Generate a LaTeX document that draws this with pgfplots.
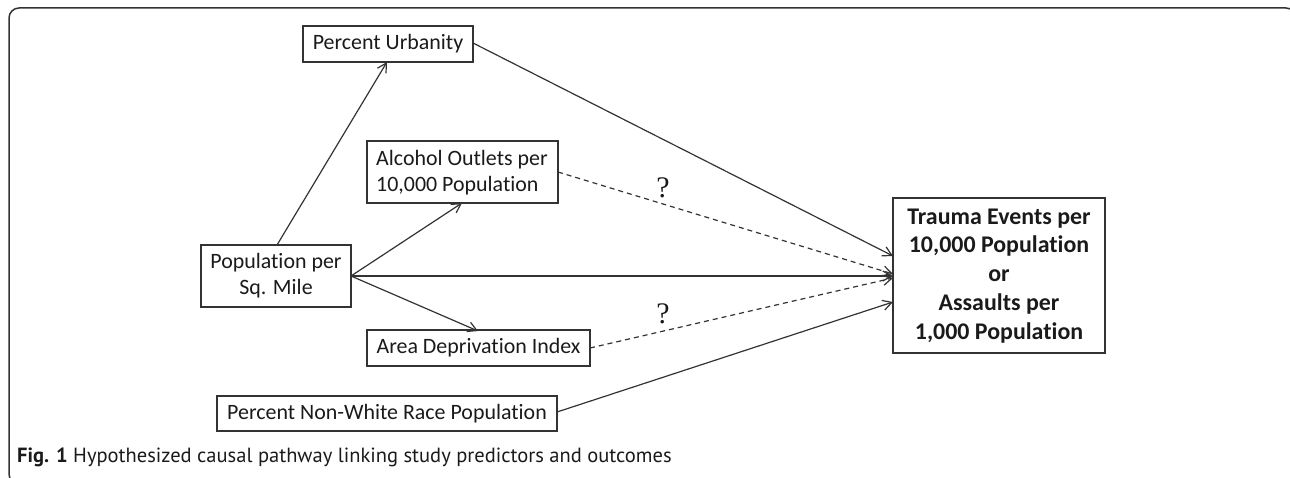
\documentclass[border=0pt]{standalone}
\usepackage{pgfplots}
\pgfplotsset{compat=1.18}
\usepackage{fontspec}
\setmainfont{Carlito}[RawFeature={-liga;-clig;-calt;-dlig}]
\newfontfamily\capfont{PT Sans}
\newfontfamily\qfont{Liberation Serif}
\usetikzlibrary{arrows.meta}
\definecolor{ln}{HTML}{333333}
\definecolor{tx}{HTML}{1A1A1A}
\begin{document}
\begin{tikzpicture}[x=1bp,y=1bp]
\begin{axis}[name=ax, at={(0,0)}, anchor=south west,
  width=1290bp, height=477bp, scale only axis,
  xmin=0, xmax=1290, ymin=0, ymax=477, y dir=reverse,
  hide axis, clip=false]
% outer frame
\draw[ln, line width=1.5bp, rounded corners=10bp] (axis cs:1296,8) -- (axis cs:9,8) -- (axis cs:9,484) -- (axis cs:1296,484) -- cycle;
% boxes
\tikzset{bx/.style={ln, line width=1.2bp}, tn/.style={text=tx, font=\fontsize{22}{26}\selectfont, align=center, inner sep=0pt}}
\draw[bx] (axis cs:303,26) rectangle (axis cs:473,62);
\node[tn] at (axis cs:388,44) {Percent Urbanity};
\draw[bx] (axis cs:367,141) rectangle (axis cs:558,203);
\node[tn, align=left] at (axis cs:462,173) {Alcohol Outlets per\\10,000 Population};
\draw[bx] (axis cs:201,245) rectangle (axis cs:351,307);
\node[tn] at (axis cs:276,276) {Population per\\Sq. Mile};
\draw[bx] (axis cs:367,330) rectangle (axis cs:590,366);
\node[tn] at (axis cs:478.5,348) {Area Deprivation Index};
\draw[bx] (axis cs:217,396) rectangle (axis cs:557,431);
\node[tn] at (axis cs:387,413.5) {Percent Non-White Race Population};
\draw[bx] (axis cs:893,198) rectangle (axis cs:1105,353);
\node[tn, font=\bfseries\fontsize{24}{29}\selectfont] at (axis cs:999,276) {Trauma Events per\\10,000 Population\\or\\Assaults per\\1,000 Population};
% arrows
\pgfplotsset{every axis plot/.append style={ln, line width=1.2bp}}
\tikzset{ar/.style={-{Straight Barb[length=9bp,width=10bp,line width=1.2bp]}}}
\addplot[ar] coordinates {(277,245) (387,62)};
\addplot[ar] coordinates {(351,276) (462,203)};
\addplot[ar] coordinates {(351,276) (478,331)};
\addplot[ar] coordinates {(351,276) (893,276)};
\addplot[ar] coordinates {(473,43) (893,256)};
\addplot[ar] coordinates {(557,412) (893,302)};
\addplot[ar, dash pattern=on 5bp off 4bp] coordinates {(558,172) (893,274)};
\addplot[ar, dash pattern=on 5bp off 4bp] coordinates {(590,348) (893,278)};
\node[text=tx, font=\qfont\fontsize{30}{30}\selectfont, inner sep=0pt] at (axis cs:663,188) {?};
\node[text=tx, font=\qfont\fontsize{30}{30}\selectfont, inner sep=0pt] at (axis cs:663,314) {?};
% caption
\node[anchor=base west, text=tx, inner sep=0pt, font=\capfont\fontsize{20.6}{24}\selectfont] at (axis cs:17,462) {\textbf{Fig. 1} Hypothesized causal pathway linking study predictors and outcomes};
\end{axis}
\pgfresetboundingbox
\path[use as bounding box] (ax.south west) rectangle (ax.north east);
\end{tikzpicture}
\end{document}
